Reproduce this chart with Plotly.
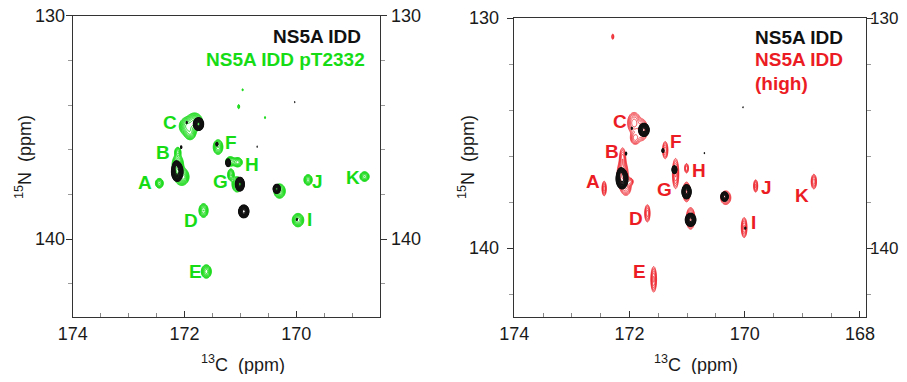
import numpy as np
import plotly.graph_objects as go

# ---------------- data ----------------
# Reference spectrum: NS5A IDD (black) - same in both panels
ref_c = [171.75, 172.13, 172.15, 171.22, 171.01, 170.94, 170.35, 171.42, 170.03, 170.70, 172.06, 171.96, 169.99]
ref_n = [134.85, 136.98, 136.75, 136.58, 137.54, 138.76, 137.75, 135.75, 133.87, 135.86, 135.88, 134.78, 139.12]
ref_wc = [0.040, 0.045, 0.025, 0.022, 0.035, 0.040, 0.033, 0.015, 0.010, 0.010, 0.012, 0.012, 0.012]
ref_wn = [0.125, 0.190, 0.110, 0.090, 0.135, 0.125, 0.105, 0.070, 0.050, 0.050, 0.060, 0.060, 0.060]
ref_amp = [1.00, 1.00, 0.55, 0.45, 1.00, 1.00, 0.50, 0.15, 0.08, 0.08, 0.12, 0.10, 0.10]

# Phosphorylated spectrum: NS5A IDD pT2332 (green, left panel)
pt_c = [172.45, 172.12, 172.12, 172.05, 171.95, 171.82, 171.90, 171.40, 171.18, 171.05, 171.17, 171.06,
        170.30, 169.79, 168.78, 169.97, 171.66, 171.61, 170.96, 171.03, 170.56, 172.00]
pt_n = [137.50, 136.10, 136.70, 137.20, 134.95, 134.75, 135.25, 135.88, 136.52, 136.56, 137.12, 137.55,
        137.85, 137.35, 137.20, 139.15, 138.72, 141.45, 133.32, 134.07, 134.56, 137.25]
pt_wc = [0.034, 0.030, 0.048, 0.058, 0.065, 0.065, 0.050, 0.042, 0.042, 0.042, 0.030, 0.042,
         0.048, 0.036, 0.040, 0.048, 0.040, 0.042, 0.010, 0.012, 0.010, 0.030]
pt_wn = [0.105, 0.115, 0.230, 0.180, 0.180, 0.180, 0.150, 0.160, 0.105, 0.105, 0.135, 0.160,
         0.150, 0.115, 0.105, 0.140, 0.150, 0.140, 0.050, 0.070, 0.050, 0.095]
pt_amp = [0.50, 0.30, 0.60, 0.70, 0.70, 0.70, 0.45, 0.50, 0.45, 0.45, 0.40, 0.60,
          0.60, 0.50, 0.50, 0.60, 0.50, 0.60, 0.10, 0.15, 0.10, 0.25]

# High concentration spectrum: NS5A IDD (high) (red, right panel)
hi_c = [172.29, 171.92, 171.78, 171.90, 172.12, 172.12, 172.06, 171.98, 172.44, 171.38, 171.20, 171.01,
        171.01, 170.94, 170.33, 169.81, 168.80, 170.01, 171.69, 171.58]
hi_n = [130.80, 134.55, 134.85, 135.20, 136.10, 136.80, 137.30, 137.10, 137.40, 135.73, 136.75, 136.52,
        137.55, 138.70, 137.80, 137.29, 137.10, 139.10, 138.48, 141.35]
hi_wc = [0.012, 0.055, 0.045, 0.045, 0.028, 0.045, 0.045, 0.025, 0.020, 0.025, 0.028, 0.020,
         0.030, 0.035, 0.045, 0.020, 0.025, 0.025, 0.025, 0.025]
hi_wn = [0.080, 0.220, 0.220, 0.150, 0.250, 0.300, 0.200, 0.080, 0.170, 0.200, 0.330, 0.120,
         0.200, 0.220, 0.150, 0.150, 0.170, 0.220, 0.200, 0.280]
hi_amp = [0.20, 0.60, 0.60, 0.40, 0.40, 0.70, 0.50, 0.30, 0.40, 0.40, 0.50, 0.30,
          0.70, 0.70, 0.50, 0.35, 0.40, 0.50, 0.40, 0.50]

peak_names = ["A", "B", "C", "D", "E", "F", "G", "H", "I", "J", "K"]
left_lab_c = [172.71, 172.39, 172.26, 171.88, 171.81, 171.17, 171.35, 170.80, 169.77, 169.62, 168.98]
left_lab_n = [137.47, 136.13, 134.79, 139.16, 141.45, 135.68, 137.42, 136.66, 139.10, 137.42, 137.24]
right_lab_c = [172.64, 172.31, 172.17, 171.89, 171.82, 171.20, 171.39, 170.79, 169.84, 169.63, 169.00]
right_lab_n = [137.10, 135.80, 134.50, 138.70, 141.02, 135.37, 137.43, 136.60, 138.89, 137.36, 137.71]

x_major_left = [174, 172, 170]
x_major_right = [174, 172, 170, 168]
y_major = [130, 140]

# ---------------- styling ----------------
FONT = "Liberation Sans, Arial, Helvetica, sans-serif"
GREEN = "rgb(22,220,22)"
RED = "rgb(236,28,36)"
BLACK = "#111111"
AX = "#333333"

gx = np.arange(168.5, 172.65, 0.008)
gy = np.arange(130.3, 142.3, 0.025)
GX, GY = np.meshgrid(gx, gy)


def spectrum(cs, ns, wcs, wns, amps):
    s = np.zeros_like(GX)
    for c, n, wc, wn, a in zip(cs, ns, wcs, wns, amps):
        s += a * np.exp(-0.5 * ((GX - c) / wc) ** 2 - 0.5 * ((GY - n) / wn) ** 2)
    return np.log10(s + 1e-5).astype(np.float32)


def contour(z, color, xa, ya, start, ratio, width):
    return go.Contour(
        x=gx.astype(np.float32), y=gy.astype(np.float32), z=z,
        xaxis=xa, yaxis=ya,
        contours=dict(coloring="lines", start=np.log10(start), end=0.0, size=np.log10(ratio)),
        colorscale=[[0, color], [1, color]], showscale=False,
        line=dict(width=width), hoverinfo="skip",
    )


z_ref = spectrum(ref_c, ref_n, ref_wc, ref_wn, ref_amp)
z_pt = spectrum(pt_c, pt_n, pt_wc, pt_wn, pt_amp)
z_hi = spectrum(hi_c, hi_n, hi_wc, hi_wn, hi_amp)

fig = go.Figure()
fig.add_trace(contour(z_pt, GREEN, "x", "y", 0.06, 1.35, 1.0))
fig.add_trace(contour(z_ref, BLACK, "x", "y", 0.07, 1.25, 1.1))
fig.add_trace(contour(z_hi, RED, "x2", "y2", 0.07, 1.45, 0.8))
fig.add_trace(contour(z_ref, BLACK, "x2", "y2", 0.07, 1.25, 1.1))
# invisible anchors so the right-hand axes get drawn
for xa, ya in (("x", "y3"), ("x2", "y4")):
    fig.add_trace(go.Scatter(x=[171], y=[135], xaxis=xa, yaxis=ya, mode="markers",
                             marker=dict(opacity=0), hoverinfo="skip", showlegend=False))

# the page body has an 8px margin on every side: lay out in screen pixels minus 8,
# and keep the figure small enough that the page does not scroll
OFF = 8
W, H = 907 - OFF, 382 - 2 * OFF


def px(x):
    return (x - OFF) / W


def py(y):
    return 1 - (y - OFF) / H


lx = [px(72.7), px(380.2)]
rx = [px(514.3), px(865.7)]
ly = [py(317.3), py(15.7)]
ry = [py(317.3), py(18.3)]

tickfont = dict(family=FONT, size=18, color="#1a1a1a")


def xaxis(dom, rng, vals, ya):
    return dict(domain=dom, range=rng, showgrid=False, zeroline=False, anchor=ya,
                showline=True, linecolor=AX, linewidth=1.3, mirror=True, automargin=False,
                tickmode="array", tickvals=vals, ticktext=[str(v) for v in vals],
                ticks="inside", ticklen=6, tickcolor=AX, tickwidth=1.2,
                minor=dict(dtick=0.5, tick0=174, ticks="inside", ticklen=4, tickcolor="#888", tickwidth=1),
                tickfont=tickfont, ticklabelstandoff=0, ticklabeloverflow="allow")


def yaxis(dom, rng, xa, side, overlay=None):
    d = dict(range=rng, showgrid=False, zeroline=False, anchor=xa, side=side, automargin=False,
             showline=True, linecolor=AX, linewidth=1.3,
             tickmode="array", tickvals=y_major, showticklabels=False,
             ticks="outside", ticklen=6, tickcolor=AX, tickwidth=1.2,
             minor=dict(dtick=2, tick0=130, ticks="outside", ticklen=4, tickcolor="#999", tickwidth=1))
    if overlay:
        d["overlaying"] = overlay
    else:
        d["domain"] = dom
    return d


fig.update_layout(
    width=W, height=H, margin=dict(l=0, r=0, t=0, b=0, autoexpand=False),
    paper_bgcolor="white", plot_bgcolor="white", showlegend=False,
    xaxis=xaxis(lx, [174, 168.5], x_major_left, "y"),
    xaxis2=xaxis(rx, [174, 167.9], x_major_right, "y2"),
    yaxis=yaxis(ly, [143.5, 130], "x", "left"),
    yaxis2=yaxis(ry, [143.0, 130], "x2", "left"),
    yaxis3=yaxis(ly, [143.5, 130], "x", "right", overlay="y"),
    yaxis4=yaxis(ry, [143.0, 130], "x2", "right", overlay="y2"),
)

ann = []
# y tick labels (placed as text next to the axis ticks)
edgefont = dict(family=FONT, size=17, color="#1a1a1a")
for v in y_major:
    ann.append(dict(x=px(67), y=v, xref="paper", yref="y", text=str(v), showarrow=False,
                    font=tickfont, xanchor="right", yanchor="middle"))
    ann.append(dict(x=px(389), y=v, xref="paper", yref="y", text=str(v), showarrow=False,
                    font=tickfont, xanchor="left", yanchor="middle"))
    ann.append(dict(x=px(501), y=v, xref="paper", yref="y2", text=str(v), showarrow=False,
                    font=tickfont, xanchor="right", yanchor="middle"))
    ann.append(dict(x=px(868), y=v, xref="paper", yref="y2", text=str(v), showarrow=False,
                    font=edgefont, xanchor="left", yanchor="middle"))

labfont = lambda c: dict(family=FONT, size=19, color=c)
for name, c, n in zip(peak_names, left_lab_c, left_lab_n):
    ann.append(dict(x=c, y=n, xref="x", yref="y", text=f"<b>{name}</b>", showarrow=False,
                    font=labfont(GREEN), xanchor="center", yanchor="middle"))
for name, c, n in zip(peak_names, right_lab_c, right_lab_n):
    ann.append(dict(x=c, y=n, xref="x2", yref="y2", text=f"<b>{name}</b>", showarrow=False,
                    font=labfont(RED), xanchor="center", yanchor="middle"))

# legend texts
ann += [
    dict(x=px(363), y=py(37), xref="paper", yref="paper", text="<b>NS5A IDD</b>", showarrow=False,
         font=labfont(BLACK), xanchor="right", yanchor="middle"),
    dict(x=px(367), y=py(60), xref="paper", yref="paper", text="<b>NS5A IDD pT2332</b>", showarrow=False,
         font=labfont(GREEN), xanchor="right", yanchor="middle"),
    dict(x=px(753), y=py(38), xref="paper", yref="paper", text="<b>NS5A IDD</b>", showarrow=False,
         font=labfont(BLACK), xanchor="left", yanchor="middle"),
    dict(x=px(753), y=py(60), xref="paper", yref="paper", text="<b>NS5A IDD</b>", showarrow=False,
         font=labfont(RED), xanchor="left", yanchor="middle"),
    dict(x=px(753), y=py(83), xref="paper", yref="paper", text="<b>(high)</b>", showarrow=False,
         font=labfont(RED), xanchor="left", yanchor="middle"),
]

titlefont = dict(family=FONT, size=18, color="#1a1a1a")
xt = "<sup>13</sup>C\u00a0 (ppm)"
yt = "<sup>15</sup>N\u00a0 (ppm)"
ann += [
    dict(x=px(243), y=py(363), xref="paper", yref="paper", text=xt, showarrow=False,
         font=titlefont, xanchor="center", yanchor="middle"),
    dict(x=px(696), y=py(363), xref="paper", yref="paper", text=xt, showarrow=False,
         font=titlefont, xanchor="center", yanchor="middle"),
    dict(x=px(23), y=py(157), xref="paper", yref="paper", text=yt, showarrow=False,
         font=titlefont, textangle=-90, xanchor="center", yanchor="middle"),
    dict(x=px(466), y=py(157), xref="paper", yref="paper", text=yt, showarrow=False,
         font=titlefont, textangle=-90, xanchor="center", yanchor="middle"),
]
fig.update_layout(annotations=ann)

fig.write_html("out.html")
